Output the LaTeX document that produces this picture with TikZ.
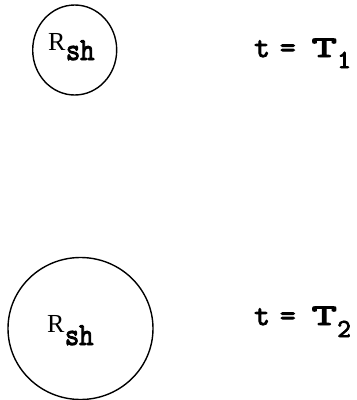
\documentclass[tikz,border=0pt]{standalone}
\usepackage{fontspec}
\usepackage{graphicx}
\setmainfont{Liberation Serif}
\newfontfamily\twfont{lmmono10-regular.otf}[FakeBold=3]
\newcommand{\shtxt}{\scalebox{0.85}[1]{sh}}
\begin{document}
\begin{tikzpicture}[x=1pt,y=-1pt,
  bubble/.style={draw=black,line width=1.4pt},
  lbl/.style={inner sep=0pt,anchor=base west,font=\twfont\fontsize{30}{30}\selectfont},
  idx/.style={inner sep=0pt,anchor=base west,font=\twfont\fontsize{26}{26}\selectfont},
  rtxt/.style={inner sep=0pt,anchor=base west,font=\fontsize{26}{26}\selectfont},
  subtxt/.style={inner sep=0pt,anchor=base west,font=\twfont\fontsize{32}{32}\selectfont}]
\useasboundingbox (0,0) rectangle (357,400);
% small circle
\draw[bubble] (74.7,50) ellipse [x radius=42, y radius=45];
\node[rtxt] (r1) at (48,50) {R};
\node[subtxt] (s1) at (r1.base east) [yshift=-10pt] {\shtxt};
% large circle
\draw[bubble] (80.5,328.5) ellipse [x radius=72.5, y radius=71];
\node[rtxt] (r2) at (47,332) {R};
\node[subtxt] (s2) at (r2.base east) [yshift=-13pt] {\shtxt};
% labels
\node[lbl] (t1) at (254,57) {t\hspace{10pt}=\hspace{16pt}\scalebox{1.6}[1]{T}};
\node[idx] (n1) at (t1.base east) [yshift=-11pt] {1};
\node[lbl] (t2) at (254,325) {t\hspace{10pt}=\hspace{16pt}\scalebox{1.6}[1]{T}};
\node[idx] (n2) at (t2.base east) [yshift=-12pt] {2};
\end{tikzpicture}
\end{document}
